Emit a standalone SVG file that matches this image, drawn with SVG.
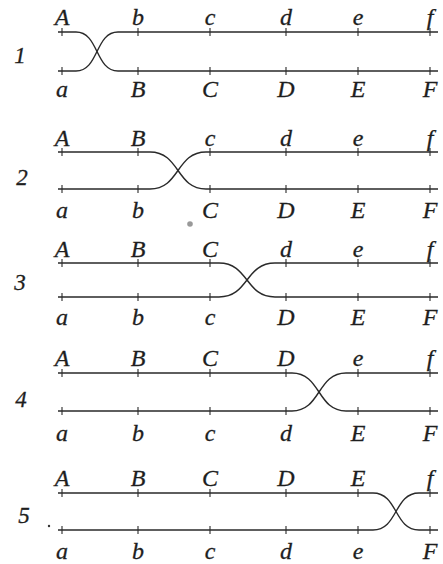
<svg xmlns="http://www.w3.org/2000/svg" width="443" height="564" viewBox="0 0 443 564">
<style>
.ln{fill:none;stroke:#2a2a2a;stroke-width:1.4}
.tk{stroke:#2a2a2a;stroke-width:1.1}
.lb{font-family:"Liberation Serif",serif;font-style:italic;font-size:24px;fill:#1e1e1e;stroke:#1e1e1e;stroke-width:0.3;text-anchor:middle}
.rn{font-family:"Liberation Serif",serif;font-style:italic;font-size:23px;fill:#1e1e1e;stroke:#1e1e1e;stroke-width:0.3;text-anchor:middle}
</style>
<defs>
<g id="ticks">
<path d="M62,-4V4M138,-4V4M210,-4V4M286,-4V4M358,-4V4M430,-4V4"/>
</g>
</defs>
<rect width="443" height="564" fill="#fff"/>
<g id="connectors">
<path class="ln" d="M58,32H76C99,32 95,71 118,71H438"/>
<path class="ln" d="M58,71H76C99,71 95,32 118,32H438"/>
<path class="ln" d="M58,152H150C180,152 176,189 206,189H438"/>
<path class="ln" d="M58,189H150C180,189 176,152 206,152H438"/>
<path class="ln" d="M58,263H219C249,263 245,297 275,297H438"/>
<path class="ln" d="M58,297H219C249,297 245,263 275,263H438"/>
<path class="ln" d="M58,373H292C321,373 317,411 346,411H438"/>
<path class="ln" d="M58,411H292C321,411 317,373 346,373H438"/>
<path class="ln" d="M58,493H373C398,493 394,530 419,530H438"/>
<path class="ln" d="M58,530H373C398,530 394,493 419,493H438"/>
<g class="tk">
<use href="#ticks" y="32"/><use href="#ticks" y="71"/>
<use href="#ticks" y="152"/><use href="#ticks" y="189"/>
<use href="#ticks" y="263"/><use href="#ticks" y="297"/>
<use href="#ticks" y="373"/><use href="#ticks" y="411"/>
<use href="#ticks" y="493"/><use href="#ticks" y="530"/>
</g>
</g>
<g id="row1">
<text class="rn" x="20" y="63">1</text>
<g class="lb">
<text x="62" y="25">A</text><text x="138" y="25">b</text><text x="210" y="25">c</text><text x="286" y="25">d</text><text x="358" y="25">e</text><text x="430" y="25">f</text>
<text x="62" y="97">a</text><text x="138" y="97">B</text><text x="210" y="97">C</text><text x="286" y="97">D</text><text x="358" y="97">E</text><text x="430" y="97">F</text>
</g>
</g>
<g id="row2">
<text class="rn" x="22" y="185">2</text>
<g class="lb">
<text x="62" y="146">A</text><text x="138" y="146">B</text><text x="210" y="146">c</text><text x="286" y="146">d</text><text x="358" y="146">e</text><text x="430" y="146">f</text>
<text x="62" y="218">a</text><text x="138" y="218">b</text><text x="210" y="218">C</text><text x="286" y="218">D</text><text x="358" y="218">E</text><text x="430" y="218">F</text>
</g>
</g>
<g id="row3">
<text class="rn" x="20" y="290">3</text>
<g class="lb">
<text x="62" y="257">A</text><text x="138" y="257">B</text><text x="210" y="257">C</text><text x="286" y="257">d</text><text x="358" y="257">e</text><text x="430" y="257">f</text>
<text x="62" y="325">a</text><text x="138" y="325">b</text><text x="210" y="325">c</text><text x="286" y="325">D</text><text x="358" y="325">E</text><text x="430" y="325">F</text>
</g>
</g>
<g id="row4">
<text class="rn" x="21" y="407">4</text>
<g class="lb">
<text x="62" y="366">A</text><text x="138" y="366">B</text><text x="210" y="366">C</text><text x="286" y="366">D</text><text x="358" y="366">e</text><text x="430" y="366">f</text>
<text x="62" y="441">a</text><text x="138" y="441">b</text><text x="210" y="441">c</text><text x="286" y="441">d</text><text x="358" y="441">E</text><text x="430" y="441">F</text>
</g>
</g>
<g id="row5">
<text class="rn" x="24" y="523">5</text>
<circle cx="49" cy="526" r="1.2" fill="#333"/>
<g class="lb">
<text x="62" y="486">A</text><text x="138" y="486">B</text><text x="210" y="486">C</text><text x="286" y="486">D</text><text x="358" y="486">E</text><text x="430" y="486">f</text>
<text x="62" y="559">a</text><text x="138" y="559">b</text><text x="210" y="559">c</text><text x="286" y="559">d</text><text x="358" y="559">e</text><text x="430" y="559">F</text>
</g>
</g>
<circle cx="190" cy="224" r="2.8" fill="#999"/>
</svg>
